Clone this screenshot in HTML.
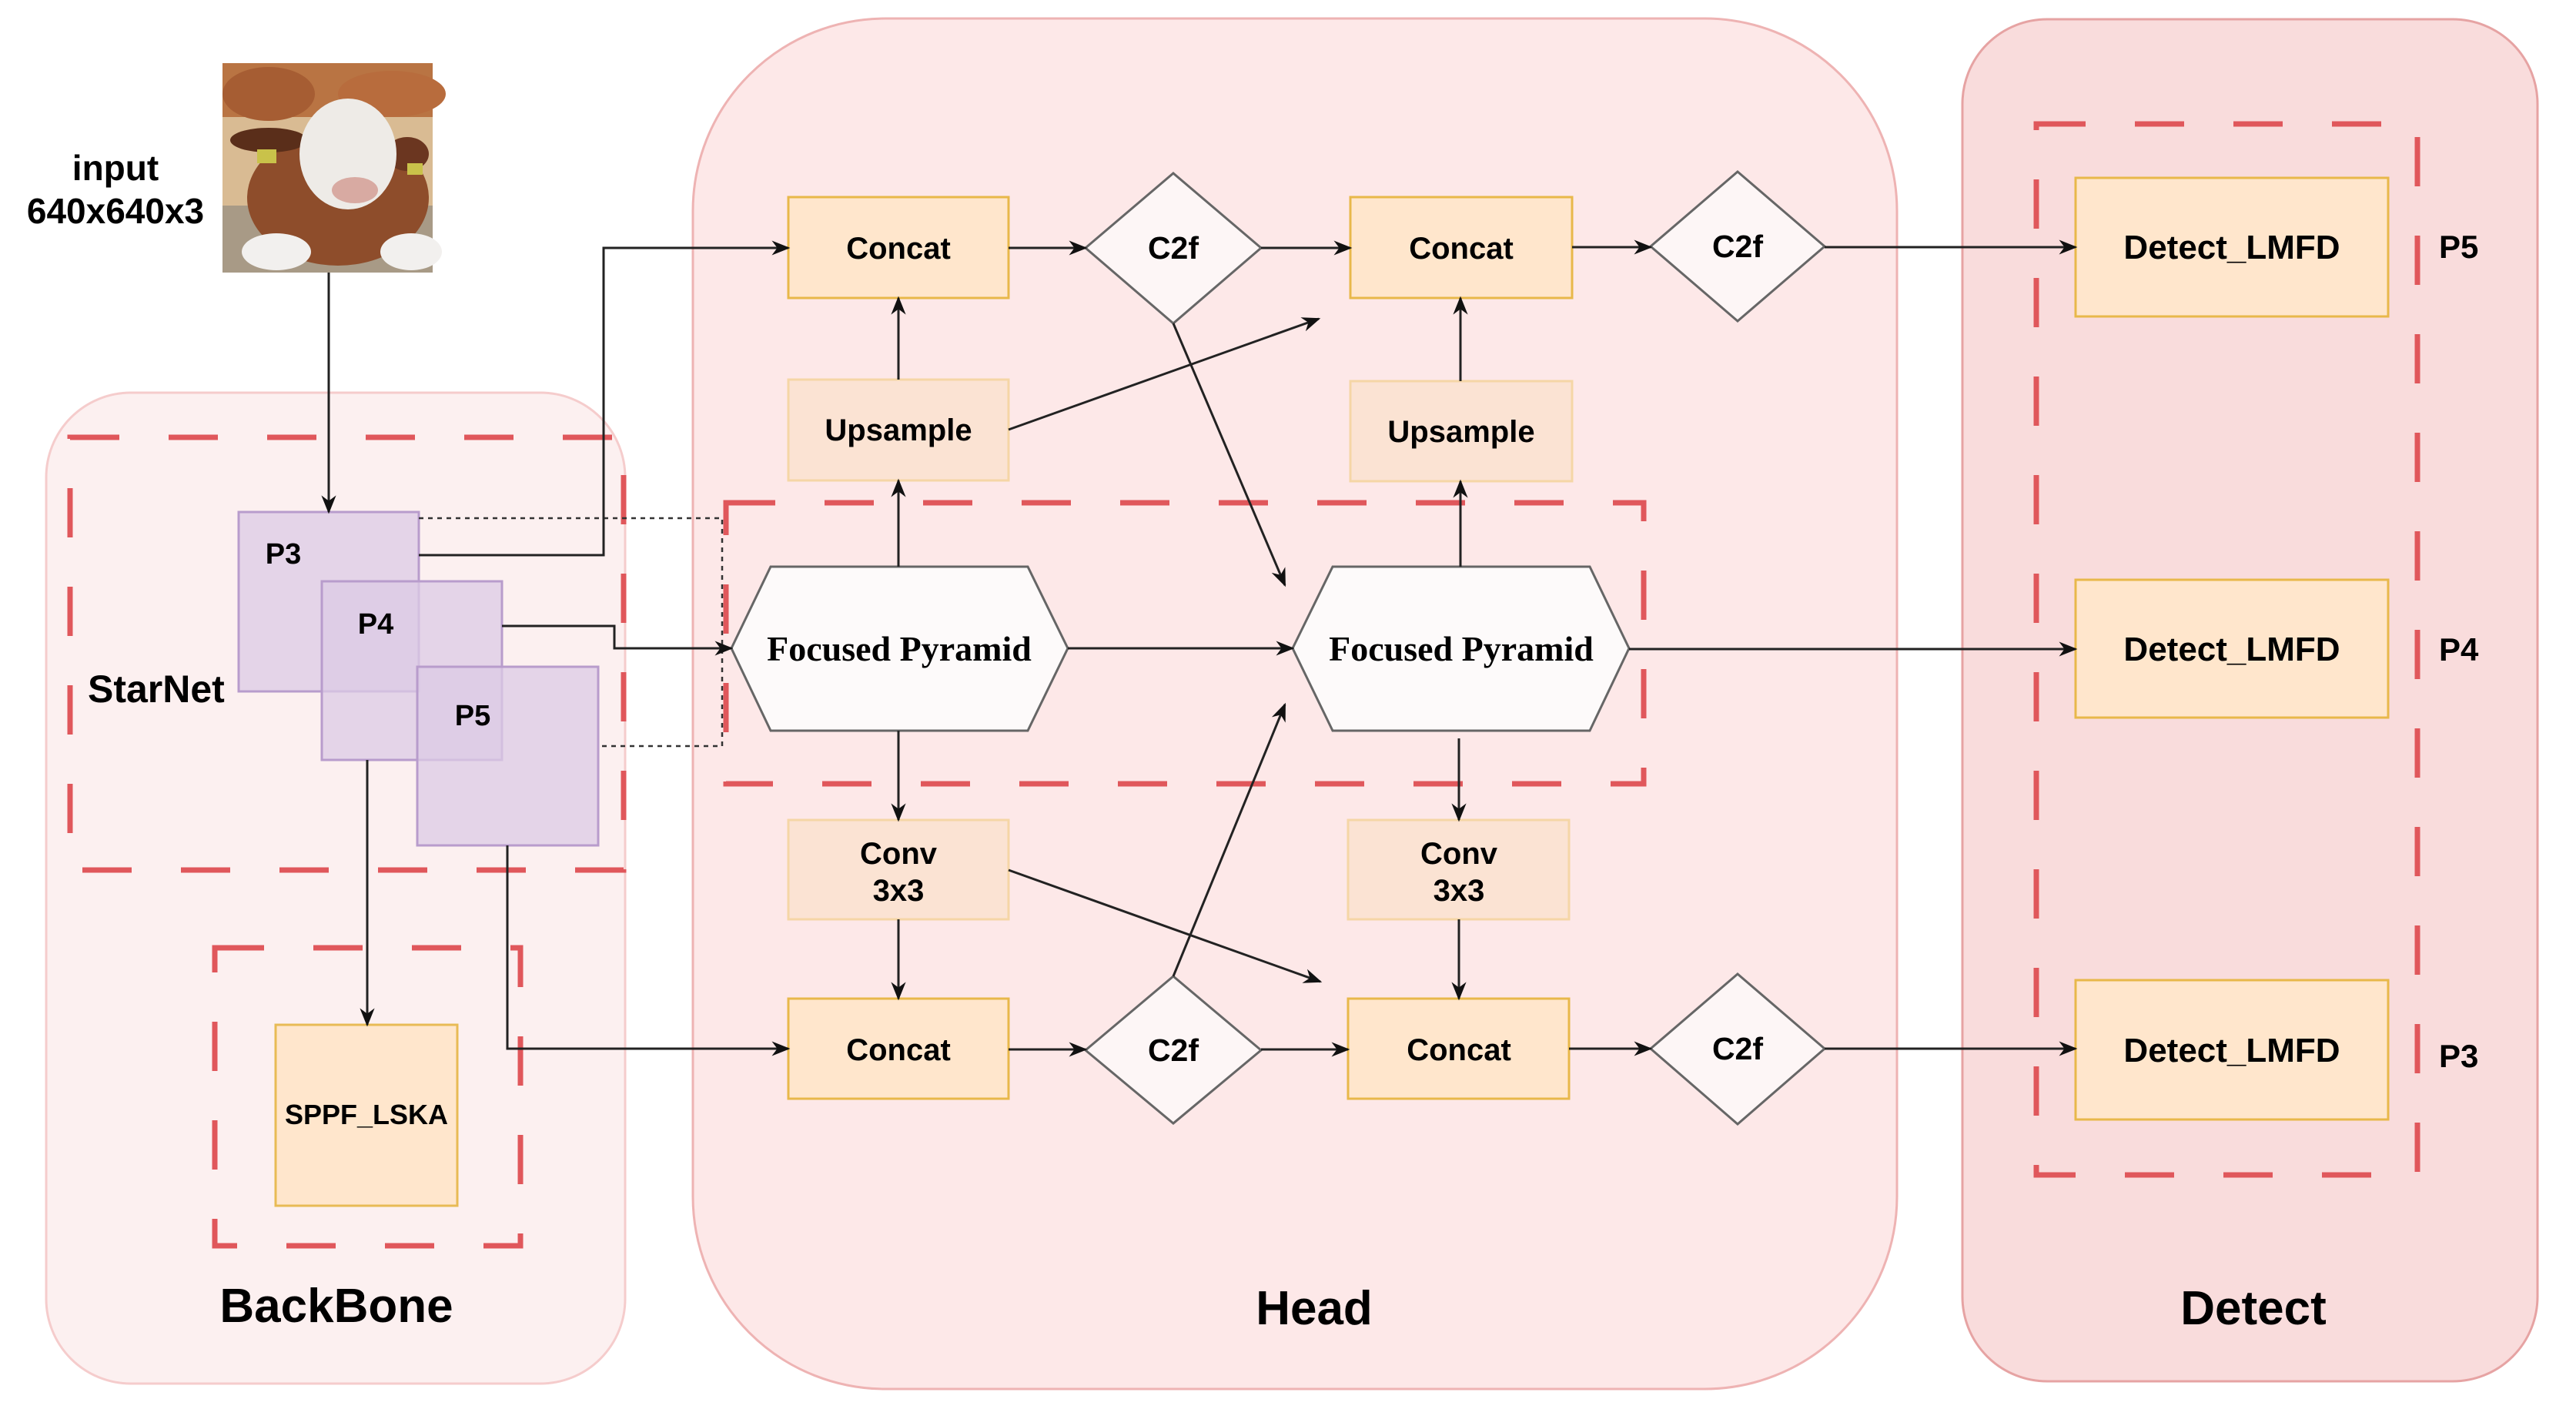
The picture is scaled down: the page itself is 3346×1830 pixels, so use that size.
<!DOCTYPE html>
<html><head><meta charset="utf-8"><style>
html,body{margin:0;padding:0;background:#fff;}
svg{display:block;}
text{font-family:"Liberation Sans",sans-serif;font-weight:bold;fill:#000;}
.serif{font-family:"Liberation Serif",serif;}
</style></head><body>
<svg width="3346" height="1830" viewBox="0 0 3346 1830" xmlns="http://www.w3.org/2000/svg">
<defs>
<marker id="ah" markerWidth="10" markerHeight="10" refX="9" refY="5" orient="auto" markerUnits="userSpaceOnUse" viewBox="0 0 10 10">
</marker>
<marker id="a" viewBox="0 0 20 20" refX="18" refY="10" markerWidth="24" markerHeight="24" orient="auto" markerUnits="userSpaceOnUse">
<path d="M0,2 L20,10 L0,18 L6,10 Z" fill="#111"/>
</marker>
</defs>

<!-- containers -->
<rect x="60" y="510" width="752" height="1287" rx="110" fill="#fcf0f0" stroke="#f5cccc" stroke-width="3"/>
<rect x="900" y="24" width="1564" height="1780" rx="250" fill="#fde8e8" stroke="#eeb3b3" stroke-width="3"/>
<rect x="2549" y="25" width="747" height="1769" rx="110" fill="#f9dcdc" stroke="#e6a3a3" stroke-width="3"/>

<!-- dashed red boxes -->
<g fill="none" stroke="#e0575b" stroke-width="7" stroke-dasharray="64 64">
<rect x="91" y="568" width="719" height="562"/>
<rect x="279" y="1231" width="397" height="387"/>
<rect x="943" y="653" width="1192" height="365"/>
<rect x="2645" y="161" width="495" height="1365"/>
</g>

<!-- cow image -->
<g transform="translate(289,82)">
<rect width="273" height="272" fill="#d9bb93"/>
<rect width="273" height="70" fill="#b97443"/>
<ellipse cx="60" cy="40" rx="60" ry="35" fill="#a65d33"/>
<ellipse cx="220" cy="40" rx="70" ry="30" fill="#b86c3d"/>
<rect y="185" width="273" height="87" fill="#a89a86"/>
<ellipse cx="150" cy="175" rx="118" ry="88" fill="#8e4d2b"/>
<ellipse cx="60" cy="100" rx="50" ry="16" fill="#5a2e1a"/>
<ellipse cx="240" cy="118" rx="28" ry="22" fill="#6b3620"/>
<ellipse cx="163" cy="118" rx="63" ry="72" fill="#eeebe7"/>
<ellipse cx="172" cy="165" rx="30" ry="17" fill="#d8aaa2"/>
<ellipse cx="70" cy="245" rx="45" ry="24" fill="#f2f0ee"/>
<ellipse cx="245" cy="245" rx="40" ry="24" fill="#f2f0ee"/>
<rect x="45" y="112" width="25" height="18" fill="#c9c24a"/>
<rect x="240" y="130" width="20" height="15" fill="#c9c24a"/>
</g>
<text x="150" y="234" font-size="46" text-anchor="middle">input</text>
<text x="150" y="290" font-size="46" text-anchor="middle">640x640x3</text>

<!-- P boxes -->
<g fill="#dccbe6" fill-opacity="0.75" stroke="#b89ccc" stroke-width="3">
<rect x="310" y="665" width="234" height="233"/>
<rect x="418" y="755" width="234" height="232"/>
<rect x="542" y="866" width="235" height="232"/>
</g>
<text x="368" y="732" font-size="38" text-anchor="middle">P3</text>
<text x="488" y="823" font-size="38" text-anchor="middle">P4</text>
<text x="614" y="942" font-size="38" text-anchor="middle">P5</text>
<text x="114" y="912" font-size="50">StarNet</text>

<!-- SPPF -->
<rect x="358" y="1331" width="236" height="235" fill="#ffe6cc" stroke="#e8bb55" stroke-width="3"/>
<text x="476" y="1460" font-size="36" text-anchor="middle">SPPF_LSKA</text>
<text x="437" y="1717" font-size="62" text-anchor="middle">BackBone</text>
<text x="1707" y="1720" font-size="62" text-anchor="middle">Head</text>
<text x="2927" y="1720" font-size="62" text-anchor="middle">Detect</text>

<!-- head boxes -->
<g stroke-width="3">
<rect x="1024" y="256" width="286" height="131" fill="#ffe6cc" stroke="#e8b84a"/>
<rect x="1754" y="256" width="288" height="131" fill="#ffe6cc" stroke="#e8b84a"/>
<rect x="1024" y="493" width="286" height="131" fill="#fbe3d3" stroke="#f5d6a6"/>
<rect x="1754" y="495" width="288" height="130" fill="#fbe3d3" stroke="#f5d6a6"/>
<rect x="1024" y="1065" width="286" height="129" fill="#fbe3d3" stroke="#f5d6a6"/>
<rect x="1751" y="1065" width="287" height="129" fill="#fbe3d3" stroke="#f5d6a6"/>
<rect x="1024" y="1297" width="286" height="130" fill="#ffe6cc" stroke="#e8b84a"/>
<rect x="1751" y="1297" width="287" height="130" fill="#ffe6cc" stroke="#e8b84a"/>
<rect x="2696" y="231" width="406" height="180" fill="#ffe6cc" stroke="#e8b84a"/>
<rect x="2696" y="753" width="406" height="179" fill="#ffe6cc" stroke="#e8b84a"/>
<rect x="2696" y="1273" width="406" height="181" fill="#ffe6cc" stroke="#e8b84a"/>
</g>
<g fill="#fdf6f6" stroke="#666" stroke-width="3">
<polygon points="1524,225 1638,322 1524,420 1410,322"/>
<polygon points="2257,223 2370,320 2257,417 2144,320"/>
<polygon points="1524,1268 1638,1364 1524,1459 1410,1364"/>
<polygon points="2257,1265 2370,1362 2257,1460 2144,1362"/>
<polygon points="950,842 1001,736 1335,736 1387,842 1335,949 1001,949" fill="#fdfafa"/>
<polygon points="1679,842 1731,736 2065,736 2116,842 2065,949 1731,949" fill="#fdfafa"/>
</g>
<g font-size="40" text-anchor="middle">
<text x="1167" y="336">Concat</text>
<text x="1898" y="336">Concat</text>
<text x="1167" y="572">Upsample</text>
<text x="1898" y="574">Upsample</text>
<text x="1167" y="1122">Conv</text><text x="1167" y="1170">3x3</text>
<text x="1895" y="1122">Conv</text><text x="1895" y="1170">3x3</text>
<text x="1167" y="1377">Concat</text>
<text x="1895" y="1377">Concat</text>
<text x="1524" y="336" font-size="41">C2f</text>
<text x="2257" y="334" font-size="41">C2f</text>
<text x="1524" y="1378" font-size="41">C2f</text>
<text x="2257" y="1376" font-size="41">C2f</text>
</g>
<g font-size="46" text-anchor="middle" class="serif">
<text class="serif" x="1168" y="858">Focused Pyramid</text>
<text class="serif" x="1898" y="858">Focused Pyramid</text>
</g>
<g font-size="44" text-anchor="middle">
<text x="2899" y="336">Detect_LMFD</text>
<text x="2899" y="858">Detect_LMFD</text>
<text x="2899" y="1379">Detect_LMFD</text>
</g>
<g font-size="42">
<text x="3168" y="335">P5</text>
<text x="3168" y="858">P4</text>
<text x="3168" y="1386">P3</text>
</g>

<!-- dotted -->
<polyline points="544,673 938,673 938,969 779,969" fill="none" stroke="#333" stroke-width="2.5" stroke-dasharray="6 6"/>

<!-- arrows -->
<g fill="none" stroke="#222" stroke-width="3" marker-end="url(#a)">
<line x1="427" y1="354" x2="427" y2="665"/>
<polyline points="544,721 784,721 784,322 1024,322"/>
<polyline points="652,813 798,813 798,842 950,842"/>
<line x1="477" y1="987" x2="477" y2="1331"/>
<polyline points="659,1098 659,1362 1024,1362"/>
<line x1="1310" y1="322" x2="1410" y2="322"/>
<line x1="1638" y1="322" x2="1754" y2="322"/>
<line x1="2042" y1="321" x2="2144" y2="321"/>
<line x1="2370" y1="321" x2="2696" y2="321"/>
<line x1="1167" y1="493" x2="1167" y2="387"/>
<line x1="1310" y1="558" x2="1713" y2="414"/>
<line x1="1167" y1="736" x2="1167" y2="624"/>
<line x1="1524" y1="420" x2="1669" y2="760"/>
<line x1="1387" y1="842" x2="1679" y2="842"/>
<line x1="1897" y1="736" x2="1897" y2="625"/>
<line x1="1897" y1="495" x2="1897" y2="387"/>
<line x1="2116" y1="843" x2="2696" y2="843"/>
<line x1="1167" y1="949" x2="1167" y2="1065"/>
<line x1="1895" y1="959" x2="1895" y2="1065"/>
<line x1="1167" y1="1194" x2="1167" y2="1297"/>
<line x1="1310" y1="1130" x2="1715" y2="1275"/>
<line x1="1310" y1="1363" x2="1410" y2="1363"/>
<line x1="1524" y1="1268" x2="1669" y2="915"/>
<line x1="1638" y1="1363" x2="1751" y2="1363"/>
<line x1="1895" y1="1194" x2="1895" y2="1297"/>
<line x1="2038" y1="1362" x2="2144" y2="1362"/>
<line x1="2370" y1="1362" x2="2696" y2="1362"/>
</g>
</svg>
</body></html>
